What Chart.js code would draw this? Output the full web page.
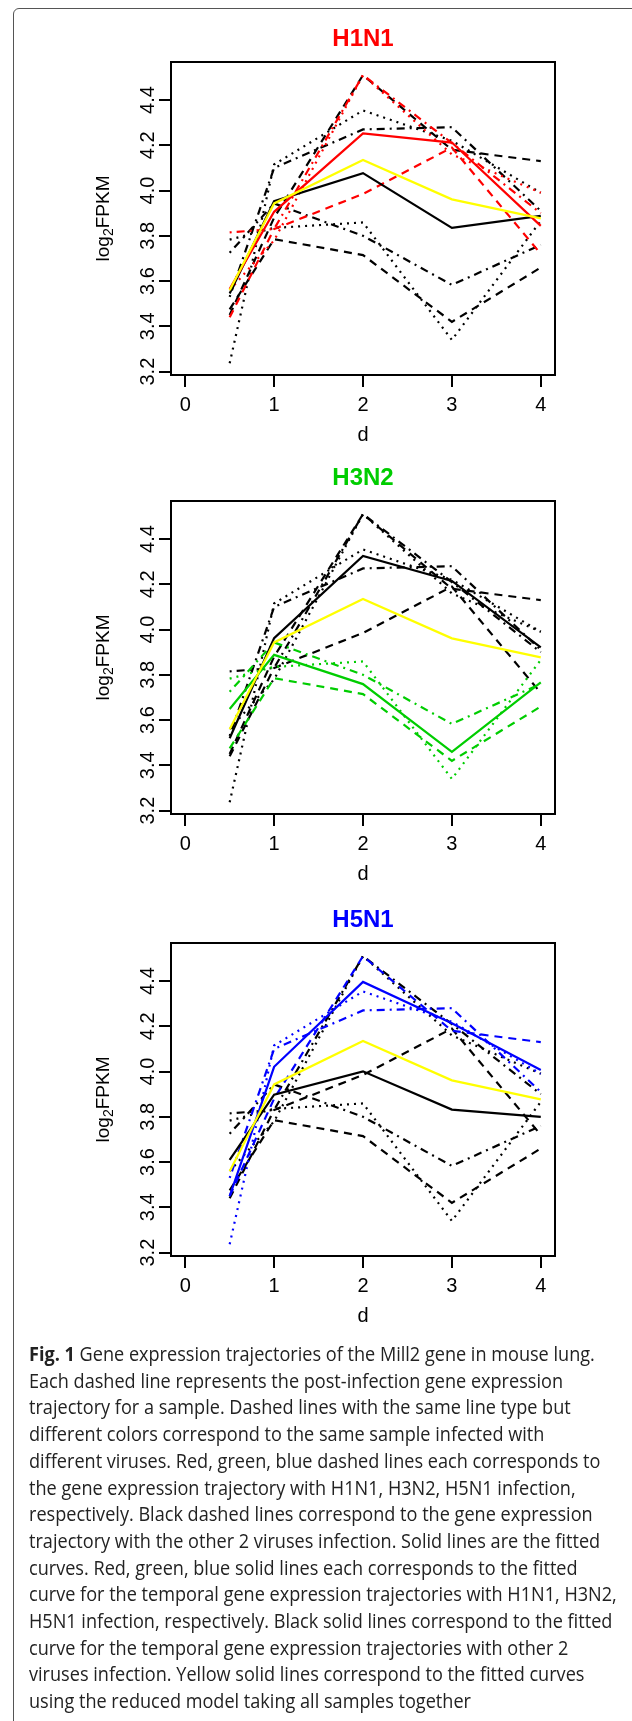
<!DOCTYPE html>
<html lang="en">
<head>
<meta charset="UTF-8">
<title>Mill2 gene expression trajectories</title>
<script src="https://cdn.jsdelivr.net/npm/chart.js@4.4.0/dist/chart.umd.min.js"></script>
<style>
  body { margin: 0; width: 632px; height: 1721px; position: relative; overflow: hidden; background: #fff; }
  .frame { position: absolute; left: 13px; top: 8px; width: 700px; height: 1800px;
           border: 1px solid #555; border-top-left-radius: 6px; }
  .panel { position: absolute; left: 0; }
  .caption { position: absolute; left: 29px; top: 1341px; font-family: "Open Sans", sans-serif;
             font-size: 20px; line-height: 26.7px; color: #222; white-space: nowrap;
             transform: scaleX(0.905); transform-origin: left top; }
  .caption b { font-weight: 700; }
</style>
</head>
<body>
<div class="frame"></div>
<canvas id="p1" class="panel" width="632" height="460" style="top:0px"></canvas>
<canvas id="p2" class="panel" width="632" height="460" style="top:439px"></canvas>
<canvas id="p3" class="panel" width="632" height="460" style="top:881px"></canvas>
<div class="caption">
<b>Fig. 1</b> Gene expression trajectories of the Mill2 gene in mouse lung.<br>
Each dashed line represents the post-infection gene expression<br>
trajectory for a sample. Dashed lines with the same line type but<br>
different colors correspond to the same sample infected with<br>
different viruses. Red, green, blue dashed lines each corresponds to<br>
the gene expression trajectory with H1N1, H3N2, H5N1 infection,<br>
respectively. Black dashed lines correspond to the gene expression<br>
trajectory with the other 2 viruses infection. Solid lines are the fitted<br>
curves. Red, green, blue solid lines each corresponds to the fitted<br>
curve for the temporal gene expression trajectories with H1N1, H3N2,<br>
H5N1 infection, respectively. Black solid lines correspond to the fitted<br>
curve for the temporal gene expression trajectories with other 2<br>
viruses infection. Yellow solid lines correspond to the fitted curves<br>
using the reduced model taking all samples together
</div>
<script>
// days post infection
const days = [0.5, 1, 2, 3, 4];
const xTicks = [0, 1, 2, 3, 4];
const yTicks = [3.2, 3.4, 3.6, 3.8, 4.0, 4.2, 4.4];

// sample trajectories (log2 FPKM), one per line type
const h1n1Dashed  = [3.44, 3.83, 3.985, 4.19, 3.72];
const h1n1Dotted  = [3.56, 3.78, 4.51, 4.16, 3.99];
const h1n1DotDash = [3.815, 3.83, 4.51, 4.21, 3.90];
const h3n2Dashed  = [3.475, 3.785, 3.715, 3.42, 3.66];
const h3n2Dotted  = [3.783, 3.835, 3.859, 3.34, 3.866];
const h3n2DotDash = [3.725, 3.943, 3.80, 3.583, 3.76];
const h5n1Dashed  = [3.45, 3.88, 4.51, 4.18, 4.13];
const h5n1Dotted  = [3.237, 4.115, 4.354, 4.22, 3.99];
const h5n1DotDash = [3.53, 4.10, 4.27, 4.28, 3.91];

// fitted curves
const h1n1Fit      = [3.565, 3.906, 4.252, 4.212, 3.844];
const h1n1OtherFit = [3.545, 3.953, 4.077, 3.835, 3.888];
const h3n2Fit      = [3.649, 3.888, 3.759, 3.46, 3.767];
const h3n2OtherFit = [3.52, 3.962, 4.325, 4.215, 3.921];
const h5n1Fit      = [3.45, 4.021, 4.396, 4.213, 4.007];
const h5n1OtherFit = [3.61, 3.898, 4.001, 3.832, 3.80];
const reducedFit   = [3.56, 3.943, 4.135, 3.961, 3.877];

const RED = '#ff0000', GREEN = '#00cd00', BLUE = '#0000ff', YELLOW = '#ffff00';
const DASH = { dashed: [8, 6], dotted: [2, 5], dotdash: [2, 5, 8, 5], solid: [] };

const samples = {
  h1n1: [[h1n1Dashed, 'dashed'], [h1n1Dotted, 'dotted'], [h1n1DotDash, 'dotdash']],
  h3n2: [[h3n2Dashed, 'dashed'], [h3n2Dotted, 'dotted'], [h3n2DotDash, 'dotdash']],
  h5n1: [[h5n1Dashed, 'dashed'], [h5n1Dotted, 'dotted'], [h5n1DotDash, 'dotdash']]
};

function line(values, color, lty) {
  return {
    data: values.map((v, i) => ({ x: days[i], y: v })),
    borderColor: color,
    borderWidth: 2.2,
    borderDash: DASH[lty],
    pointRadius: 0,
    tension: 0,
    fill: false
  };
}

const plotBox = {
  id: 'plotBox',
  afterDraw(chart) {
    const a = chart.chartArea, ctx = chart.ctx;
    ctx.save();
    ctx.strokeStyle = '#000';
    ctx.lineWidth = 2;
    ctx.strokeRect(a.left, a.top, a.right - a.left, a.bottom - a.top);
    // y axis title with subscript
    ctx.translate(103.5, (a.top + a.bottom) / 2);
    ctx.rotate(-Math.PI / 2);
    ctx.fillStyle = '#000';
    ctx.textBaseline = 'middle';
    const big = '19px "Liberation Sans", Arial, sans-serif';
    const small = '14px "Liberation Sans", Arial, sans-serif';
    ctx.font = big;
    const w1 = ctx.measureText('log').width, w3 = ctx.measureText('FPKM').width;
    ctx.font = small;
    const w2 = ctx.measureText('2').width;
    let x = -(w1 + w2 + w3) / 2;
    ctx.font = big; ctx.textAlign = 'left';
    ctx.fillText('log', x, 0); x += w1;
    ctx.font = small; ctx.fillText('2', x, 6); x += w2;
    ctx.font = big; ctx.fillText('FPKM', x, 0);
    ctx.restore();
  }
};

function makePanel(id, title, color, focus, others, otherFit, virusFit) {
  const sets = [];
  others.forEach(k => samples[k].forEach(([v, lty]) => sets.push(line(v, '#000', lty))));
  samples[focus].forEach(([v, lty]) => sets.push(line(v, color, lty)));
  sets.push(line(otherFit, '#000', 'solid'));
  sets.push(line(virusFit, color, 'solid'));
  sets.push(line(reducedFit, YELLOW, 'solid'));
  sets.reverse(); // first dataset is drawn on top

  const tickFont = { family: '"Liberation Sans", Arial, sans-serif', size: 20 };
  const grid = { display: true, drawOnChartArea: false, drawTicks: true, tickLength: 12, color: '#000', lineWidth: 2 };

  new Chart(document.getElementById(id), {
    type: 'line',
    data: { datasets: sets },
    options: {
      responsive: false,
      animation: false,
      layout: { padding: { left: 0, right: 77, top: 0, bottom: 0 } },
      plugins: {
        legend: { display: false },
        tooltip: { enabled: false },
        title: {
          display: true, text: title, color: color, fullSize: false,
          font: { family: '"Liberation Sans", Arial, sans-serif', size: 24, weight: 'bold', lineHeight: 1.2 },
          padding: { top: 24.5, bottom: 8.7 }
        }
      },
      scales: {
        x: {
          type: 'linear', min: -0.16, max: 4.16,
          afterBuildTicks: s => { s.ticks = xTicks.map(v => ({ value: v })); },
          afterFit: s => { s.height = 85; },
          ticks: { font: tickFont, color: '#000', padding: 6, maxRotation: 0, callback: v => String(v) },
          grid: grid,
          border: { display: false },
          title: { display: true, text: 'd', color: '#000', font: tickFont, padding: { top: 0, bottom: 13 } }
        },
        y: {
          type: 'linear', min: 3.185, max: 4.568,
          afterBuildTicks: s => { s.ticks = yTicks.map(v => ({ value: v })); },
          afterFit: s => { s.width = 171; },
          ticks: { font: tickFont, color: '#000', padding: -3, minRotation: 90, maxRotation: 90,
                   crossAlign: 'center', callback: v => Number(v).toFixed(1) },
          grid: grid,
          border: { display: false }
        }
      }
    },
    plugins: [plotBox]
  });
}

makePanel('p1', 'H1N1', RED, 'h1n1', ['h3n2', 'h5n1'], h1n1OtherFit, h1n1Fit);
makePanel('p2', 'H3N2', GREEN, 'h3n2', ['h1n1', 'h5n1'], h3n2OtherFit, h3n2Fit);
makePanel('p3', 'H5N1', BLUE, 'h5n1', ['h1n1', 'h3n2'], h5n1OtherFit, h5n1Fit);
</script>
</body>
</html>
